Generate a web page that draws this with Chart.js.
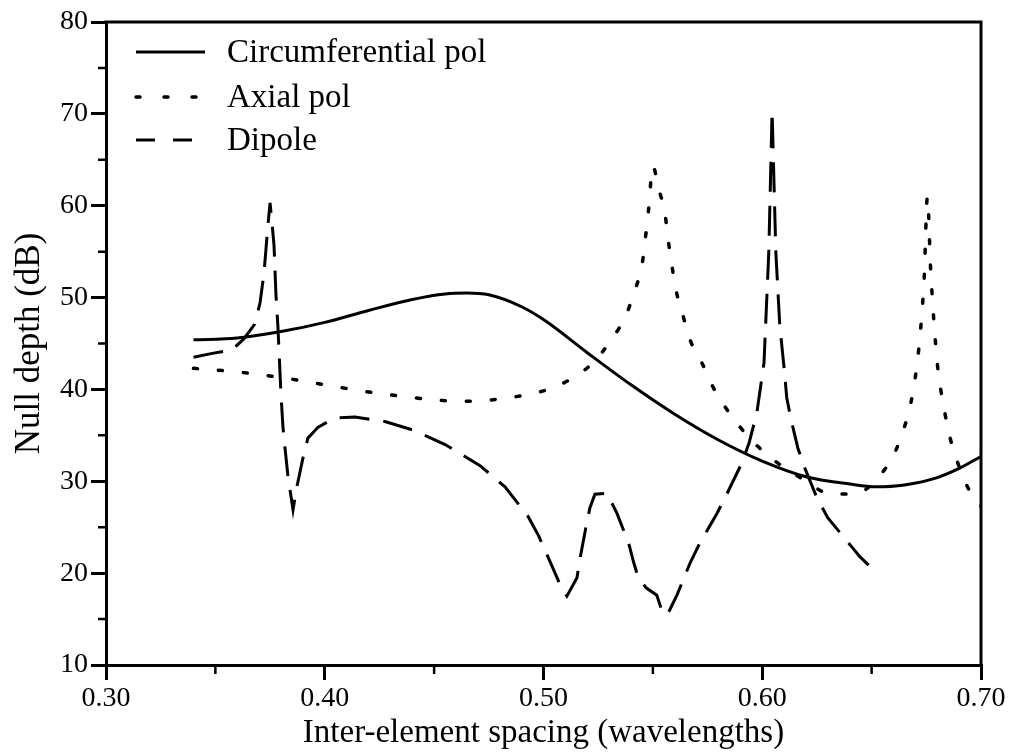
<!DOCTYPE html>
<html><head><meta charset="utf-8">
<script src="https://cdn.jsdelivr.net/npm/chart.js@4.4.1/dist/chart.umd.min.js"></script>
<style>html,body{margin:0;padding:0;background:#fff}canvas{display:block}</style>
</head><body>
<canvas id="c" width="1011" height="753"></canvas>
<script>
// ---- data ----
const seriesLabels = ['Circumferential pol', 'Axial pol', 'Dipole'];
const xTicks = [0.30, 0.40, 0.50, 0.60, 0.70];
const xTickLabels = ['0.30', '0.40', '0.50', '0.60', '0.70'];
const yTicks = [10, 20, 30, 40, 50, 60, 70, 80];
const yTickLabels = ['10', '20', '30', '40', '50', '60', '70', '80'];
const xMinorTicks = [0.35, 0.45, 0.55, 0.65];
const yMinorTicks = [15, 25, 35, 45, 55, 65, 75];

const circX = [0.34,0.36,0.38,0.40,0.42,0.44,0.455,0.465,0.475,0.49,0.50,0.52,0.54,0.56,0.58,0.60,0.62,0.64,0.652,0.665,0.68,0.69,0.70];
const circY = [45.4,45.6,46.3,47.3,48.6,49.8,50.4,50.5,50.3,49.0,47.6,44.0,40.5,37.3,34.5,32.2,30.5,29.7,29.4,29.6,30.4,31.4,32.7];

const axialX = [0.34,0.36,0.38,0.395,0.43,0.465,0.487,0.498,0.51,0.5217,0.531,0.5377,0.5418,0.545,0.5465,0.548,0.550,0.5527,0.5555,0.557,0.5587,0.5606,0.5637,0.567,0.5724,0.5783,0.5857,0.595,0.607,0.6195,0.630,0.642,0.653,0.6607,0.665,0.668,0.670,0.672,0.674,0.6755,0.677,0.680,0.6816,0.6835,0.686,0.690,0.6958,0.70];
const axialY = [42.3,41.9,41.3,40.7,39.4,38.7,39.2,39.7,40.8,42.7,45.4,48.1,50.8,53.5,56.3,59.5,64.3,61.8,59.2,56.3,53.5,50.8,48.1,45.4,42.9,39.9,37.2,34.5,32.0,30.1,28.7,28.6,30.4,33.2,35.9,38.6,41.4,45.5,52.0,61.0,53.0,42.9,40.0,37.4,34.6,31.6,28.5,27.3];

const dipoleX = [0.34,0.348,0.3576,0.363,0.368,0.3704,0.3722,0.374,0.375,0.3759,0.3768,0.3777,0.3786,0.380,0.3809,0.3818,0.3832,0.3855,0.387,0.390,0.3923,0.397,0.4047,0.4138,0.4275,0.44,0.455,0.471,0.4824,0.4929,0.4979,0.504,0.508,0.5107,0.5153,0.5167,0.5194,0.5212,0.5235,0.529,0.5336,0.539,0.5413,0.5432,0.5469,0.5518,0.5537,0.5565,0.561,0.567,0.5715,0.5793,0.5838,0.5907,0.594,0.5975,0.6008,0.603,0.6045,0.6062,0.608,0.61,0.6112,0.613,0.6163,0.6195,0.625,0.630,0.6415,0.6446,0.6524];
const dipoleY = [43.5,43.9,44.3,45.5,47.1,49.4,52.6,57.8,60.3,58.1,55.7,50.3,46.8,39.4,35.9,33.7,30.5,26.9,29.1,32.5,34.7,35.9,36.9,37.0,36.5,35.6,34.0,31.7,29.4,26.2,24.0,20.7,18.5,17.5,19.5,21.6,25.0,27.1,28.6,28.7,26.5,23.2,21.1,19.6,18.4,17.6,16.2,15.4,17.6,21.1,23.3,26.5,28.6,32.0,34.2,37.4,42.9,55.0,70.3,55.0,47.0,42.3,39.1,36.9,33.6,31.4,28.2,26.0,22.7,21.8,20.0];

const FONT = '"Liberation Serif", "Times New Roman", serif';
const pts = (xs, ys) => xs.map((x, i) => ({x: x, y: ys[i]}));

// draws frame (top/right), minor ticks and in-plot legend
const decor = {
  id: 'decor',
  afterDraw(chart) {
    const ctx = chart.ctx, a = chart.chartArea;
    const xs = chart.scales.x, ys = chart.scales.y;
    ctx.save();
    ctx.strokeStyle = '#000';
    ctx.lineWidth = 3;
    ctx.lineCap = 'butt';
    ctx.beginPath();
    ctx.moveTo(a.left - 1.5, a.top); ctx.lineTo(a.right + 1.5, a.top);
    ctx.moveTo(a.right, a.top); ctx.lineTo(a.right, a.bottom);
    ctx.stroke();
    ctx.lineWidth = 2.5;
    ctx.beginPath();
    xMinorTicks.forEach(v => {
      const px = xs.getPixelForValue(v);
      ctx.moveTo(px, a.bottom); ctx.lineTo(px, a.bottom + 9);
    });
    yMinorTicks.forEach(v => {
      const py = ys.getPixelForValue(v);
      ctx.moveTo(a.left, py); ctx.lineTo(a.left - 8, py);
    });
    ctx.stroke();
    // legend
    const rows = [30, 75, 118];
    ctx.font = '33px ' + FONT;
    ctx.fillStyle = '#000';
    ctx.textBaseline = 'middle';
    chart.data.datasets.forEach((ds, i) => {
      const y = a.top + rows[i];
      ctx.beginPath();
      ctx.lineWidth = ds.borderWidth;
      ctx.lineCap = ds.borderCapStyle || 'butt';
      ctx.setLineDash(ds.legendDash || []);
      ctx.moveTo(a.left + 30, y); ctx.lineTo(a.left + 99, y);
      ctx.stroke();
      ctx.setLineDash([]);
      ctx.fillText(ds.label, a.left + 121, y + 1);
    });
    ctx.restore();
  }
};

new Chart(document.getElementById('c'), {
  type: 'scatter',
  data: {
    datasets: [
      {label: seriesLabels[0], data: pts(circX, circY), showLine: true, borderColor: '#000', borderWidth: 3,
       pointRadius: 0, cubicInterpolationMode: 'monotone', fill: false},
      {label: seriesLabels[1], data: pts(axialX, axialY), showLine: true, borderColor: '#000', borderWidth: 3.5,
       pointRadius: 0, cubicInterpolationMode: 'monotone', fill: false, borderDash: [4, 21], borderCapStyle: 'round',
       legendDash: [4, 24]},
      {label: seriesLabels[2], data: pts(dipoleX, dipoleY), showLine: true, borderColor: '#000', borderWidth: 3,
       pointRadius: 0, tension: 0, fill: false, borderDash: [30, 14], legendDash: [19, 18]}
    ]
  },
  options: {
    responsive: false,
    animation: false,
    layout: {padding: {top: 22, right: 30, left: 0, bottom: 0}},
    plugins: {legend: {display: false}, tooltip: {enabled: false}},
    scales: {
      x: {
        type: 'linear', min: 0.3, max: 0.7,
        afterBuildTicks: s => { s.ticks = xTicks.map(v => ({value: v})); },
        ticks: {callback: (v) => xTickLabels[xTicks.findIndex(t => Math.abs(t - v) < 1e-6)], font: {family: FONT, size: 28},
                color: '#000', padding: 2, maxRotation: 0, autoSkip: false},
        grid: {drawOnChartArea: false, drawTicks: true, tickLength: 15, color: '#000', lineWidth: 3},
        border: {display: true, color: '#000', width: 3},
        title: {display: true, text: 'Inter-element spacing (wavelengths)', font: {family: FONT, size: 33}, color: '#000',
                padding: {top: 0, bottom: 0}},
        afterFit: s => { s.height = 88; }
      },
      y: {
        type: 'linear', min: 10, max: 80,
        afterBuildTicks: s => { s.ticks = yTicks.map(v => ({value: v})); },
        ticks: {callback: (v) => yTickLabels[yTicks.indexOf(v)], font: {family: FONT, size: 28}, color: '#000', padding: 3, autoSkip: false},
        grid: {drawOnChartArea: false, drawTicks: true, tickLength: 15, color: '#000', lineWidth: 3},
        border: {display: true, color: '#000', width: 3},
        title: {display: true, text: 'Null depth (dB)', font: {family: FONT, size: 35}, color: '#000',
                padding: {top: 9, bottom: 0}},
        afterFit: s => { s.width = 106; }
      }
    }
  },
  plugins: [decor]
});
</script>
</body></html>
